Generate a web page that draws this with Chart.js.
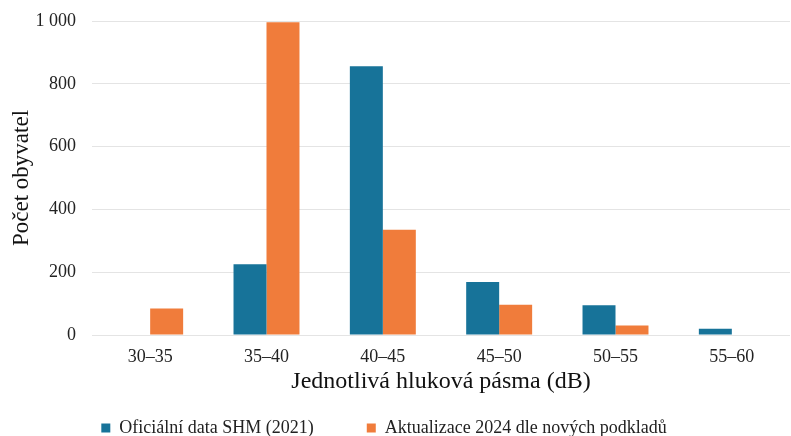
<!DOCTYPE html>
<html>
<head>
<meta charset="utf-8">
<script src="https://cdn.jsdelivr.net/npm/chart.js@4/dist/chart.umd.min.js"></script>
<style>
html,body{margin:0;padding:0;background:#fff;}
#wrap{width:791px;height:436px;position:relative;}
</style>
</head>
<body>
<div id="wrap"><canvas id="c"></canvas></div>
<script>
const categories = ["30–35","35–40","40–45","45–50","50–55","55–60"];
const seriesOfficial = [0, 225, 856, 169, 95, 20];
const seriesUpdate = [84, 996, 335, 96, 30, 0];
const seriesNames = ["Oficiální data SHM (2021)", "Aktualizace 2024 dle nových podkladů"];
const yTicks = [0, 200, 400, 600, 800, 1000];

const FONT = '"Liberation Serif", "Times New Roman", serif';

const legendShift = {
  id: 'legendShift',
  afterLayout(chart) {
    if (chart.legend) { chart.legend.left -= 11; chart.legend.right -= 11; }
  }
};

new Chart(document.getElementById('c'), {
  type: 'bar',
  data: {
    labels: categories,
    datasets: [
      {label: seriesNames[0], data: seriesOfficial, backgroundColor: '#177399', borderWidth: 0},
      {label: seriesNames[1], data: seriesUpdate, backgroundColor: '#f07c3b', borderWidth: 0}
    ]
  },
  plugins: [legendShift],
  options: {
    responsive: true,
    maintainAspectRatio: false,
    animation: false,
    layout: {padding: {top: 21, right: 1, left: 0, bottom: 0}},
    datasets: {bar: {barPercentage: 1.0, categoryPercentage: 0.567}},
    plugins: {
      tooltip: {enabled: false},
      legend: {
        position: 'bottom',
        maxHeight: 70,
        labels: {
          font: {family: FONT, size: 18},
          color: '#222',
          boxWidth: 9,
          boxHeight: 9,
          padding: 53
        }
      }
    },
    scales: {
      x: {
        afterFit: (axis) => { axis.height = 31; },
        grid: {display: false, drawTicks: false},
        border: {display: false},
        ticks: {font: {family: FONT, size: 18}, color: '#222', padding: 11},
        title: {display: true, text: 'Jednotlivá hluková pásma (dB)', font: {family: FONT, size: 24}, color: '#111', padding: {top: 0, bottom: -30}}
      },
      y: {
        min: 0, max: 1000,
        afterFit: (axis) => { axis.width = 92; axis.paddingTop = 10; axis.paddingBottom = 10; },
        afterBuildTicks: (axis) => { axis.ticks = yTicks.map(v => ({value: v})); },
        grid: {color: '#e4e4e4', drawTicks: false, lineWidth: 1},
        border: {display: false},
        ticks: {
          font: {family: FONT, size: 18}, color: '#222', padding: 16,
          callback: (v) => String(v).replace(/\B(?=(\d{3})+(?!\d))/g, ' ')
        },
        title: {display: true, text: 'Počet obyvatel', font: {family: FONT, size: 23}, color: '#111', padding: {top: 8, bottom: 0}}
      }
    }
  }
});
</script>
</body>
</html>
